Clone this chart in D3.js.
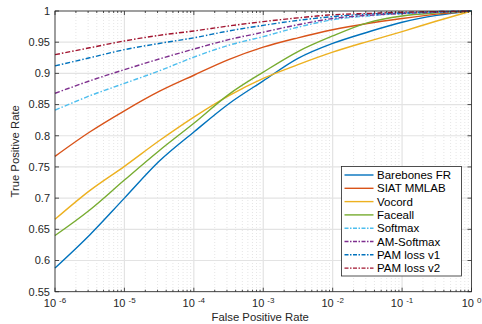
<!DOCTYPE html>
<html>
<head>
<meta charset="utf-8">
<script src="https://cdn.jsdelivr.net/npm/d3@7"></script>
<style>
  body { margin: 0; background: #fff; }
  text { font-family: "Liberation Sans", Arial, Helvetica, sans-serif; }
</style>
</head>
<body>
<div id="chart"></div>
<script>
// FPR sample points (log10 exponents, half decades)
const fprExp = [-6, -5.5, -5, -4.5, -4, -3.5, -3, -2.5, -2, -1.5, -1, -0.5, 0];

const barebones = [0.588, 0.641, 0.700, 0.759, 0.806, 0.851, 0.888, 0.924, 0.948, 0.966, 0.982, 0.993, 1.0];
const siat      = [0.767, 0.806, 0.840, 0.871, 0.897, 0.922, 0.942, 0.957, 0.970, 0.980, 0.988, 0.995, 1.0];
const vocord    = [0.666, 0.712, 0.751, 0.792, 0.830, 0.864, 0.892, 0.914, 0.934, 0.951, 0.967, 0.984, 1.0];
const faceall   = [0.640, 0.681, 0.729, 0.776, 0.820, 0.866, 0.902, 0.935, 0.960, 0.981, 0.992, 0.997, 1.0];
const softmax   = [0.841, 0.864, 0.884, 0.904, 0.926, 0.945, 0.959, 0.974, 0.986, 0.992, 0.996, 0.998, 1.0];
const amSoftmax = [0.868, 0.888, 0.906, 0.923, 0.939, 0.954, 0.966, 0.978, 0.988, 0.993, 0.996, 0.998, 1.0];
const pamV1     = [0.912, 0.925, 0.938, 0.948, 0.957, 0.968, 0.977, 0.985, 0.991, 0.995, 0.997, 0.999, 1.0];
const pamV2     = [0.930, 0.941, 0.952, 0.961, 0.968, 0.976, 0.983, 0.989, 0.994, 0.996, 0.998, 0.999, 1.0];

const names  = ['Barebones FR', 'SIAT MMLAB', 'Vocord', 'Faceall', 'Softmax', 'AM-Softmax', 'PAM loss v1', 'PAM loss v2'];
const colors = ['#0072BD', '#D95319', '#EDB120', '#77AC30', '#4DBEEE', '#7E2F8E', '#0072BD', '#A2142F'];
const dashed = [false, false, false, false, true, true, true, true];
const values = [barebones, siat, vocord, faceall, softmax, amSoftmax, pamV1, pamV2];

const xTickExp = [-6, -5, -4, -3, -2, -1, 0];
const yTicks = [0.55, 0.6, 0.65, 0.7, 0.75, 0.8, 0.85, 0.9, 0.95, 1];

const W = 482, H = 324;
const margin = { top: 11, right: 10.5, bottom: 32.3, left: 55 };
const iw = W - margin.left - margin.right;
const ih = H - margin.top - margin.bottom;

const svg = d3.select('#chart').append('svg')
  .attr('width', W)
  .attr('height', H);

const g = svg.append('g').attr('transform', `translate(${margin.left},${margin.top})`);

const x = d3.scaleLog().domain([1e-6, 1]).range([0, iw]);
const y = d3.scaleLinear().domain([0.55, 1]).range([ih, 0]);

// minor grid (dotted)
const minor = [];
for (let e = -6; e < 0; e++) {
  for (let m = 2; m <= 9; m++) minor.push(m * Math.pow(10, e));
}
g.append('g').selectAll('line').data(minor).enter().append('line')
  .attr('x1', d => x(d)).attr('x2', d => x(d))
  .attr('y1', 0).attr('y2', ih)
  .attr('stroke', '#d4d4d4')
  .attr('stroke-width', 0.6)
  .attr('stroke-dasharray', '1,2');

// major grid
g.append('g').selectAll('line').data(xTickExp).enter().append('line')
  .attr('x1', d => x(Math.pow(10, d))).attr('x2', d => x(Math.pow(10, d)))
  .attr('y1', 0).attr('y2', ih)
  .attr('stroke', '#e3e3e3')
  .attr('stroke-width', 1.2);
g.append('g').selectAll('line').data(yTicks).enter().append('line')
  .attr('x1', 0).attr('x2', iw)
  .attr('y1', d => y(d)).attr('y2', d => y(d))
  .attr('stroke', '#e3e3e3')
  .attr('stroke-width', 1.2);

// curves
const line = d3.line()
  .x((d, i) => x(Math.pow(10, fprExp[i])))
  .y(d => y(d))
  .curve(d3.curveMonotoneX);

const dash = '5,2,1.5,2';

g.append('g').selectAll('path').data(values).enter().append('path')
  .attr('d', d => line(d))
  .attr('fill', 'none')
  .attr('stroke', (d, i) => colors[i])
  .attr('stroke-width', 1.4)
  .attr('stroke-dasharray', (d, i) => dashed[i] ? dash : null);

// axes box and ticks
const axisColor = '#262626';
g.append('rect')
  .attr('width', iw).attr('height', ih)
  .attr('fill', 'none')
  .attr('stroke', axisColor)
  .attr('stroke-width', 0.8);

const tk = g.append('g').attr('stroke', axisColor).attr('stroke-width', 0.8);
xTickExp.forEach(e => {
  const px = x(Math.pow(10, e));
  tk.append('line').attr('x1', px).attr('x2', px).attr('y1', ih).attr('y2', ih - 4);
  tk.append('line').attr('x1', px).attr('x2', px).attr('y1', 0).attr('y2', 4);
});
minor.forEach(v => {
  const px = x(v);
  tk.append('line').attr('x1', px).attr('x2', px).attr('y1', ih).attr('y2', ih - 2);
  tk.append('line').attr('x1', px).attr('x2', px).attr('y1', 0).attr('y2', 2);
});
yTicks.forEach(v => {
  const py = y(v);
  tk.append('line').attr('x1', 0).attr('x2', 4).attr('y1', py).attr('y2', py);
  tk.append('line').attr('x1', iw).attr('x2', iw - 4).attr('y1', py).attr('y2', py);
});

// tick labels
const labColor = '#262626';
g.append('g').selectAll('text').data(yTicks).enter().append('text')
  .attr('x', -5)
  .attr('y', d => y(d))
  .attr('dy', '0.35em')
  .attr('text-anchor', 'end')
  .attr('font-size', '11px')
  .attr('fill', labColor)
  .text(d => d3.format('')(+d.toFixed(2)));

const xl = g.append('g').selectAll('text').data(xTickExp).enter().append('text')
  .attr('x', d => x(Math.pow(10, d)))
  .attr('y', ih + 15)
  .attr('text-anchor', 'middle')
  .attr('font-size', '11px')
  .attr('fill', labColor);
xl.append('tspan').text('10 ');
xl.append('tspan').attr('dy', -4).attr('font-size', '8px').text(d => d === 0 ? '0' : d3.format('')(d).replace('−', '-'));

// axis titles
svg.append('text')
  .attr('x', margin.left + iw / 2 - 3)
  .attr('y', H - 3)
  .attr('text-anchor', 'middle')
  .attr('font-size', '11.3px')
  .attr('fill', labColor)
  .text('False Positive Rate');

svg.append('text')
  .attr('transform', `translate(19,${margin.top + ih / 2}) rotate(-90)`)
  .attr('text-anchor', 'middle')
  .attr('font-size', '11.3px')
  .attr('fill', labColor)
  .text('True Positive Rate');

// legend
const lg = svg.append('g').attr('transform', 'translate(341.5,166.5)');
lg.append('rect')
  .attr('width', 120).attr('height', 109.5)
  .attr('fill', '#fff')
  .attr('stroke', axisColor)
  .attr('stroke-width', 0.8);
names.forEach((n, i) => {
  const ly = 8.5 + i * 13.3;
  lg.append('line')
    .attr('x1', 3).attr('x2', 32)
    .attr('y1', ly).attr('y2', ly)
    .attr('stroke', colors[i])
    .attr('stroke-width', 1.4)
    .attr('stroke-dasharray', dashed[i] ? '4,1.5,1.5,1.5' : null);
  lg.append('text')
    .attr('x', 35.5)
    .attr('y', ly)
    .attr('dy', '0.36em')
    .attr('font-size', '11.5px')
    .attr('fill', '#000')
    .text(n);
});
</script>
</body>
</html>
